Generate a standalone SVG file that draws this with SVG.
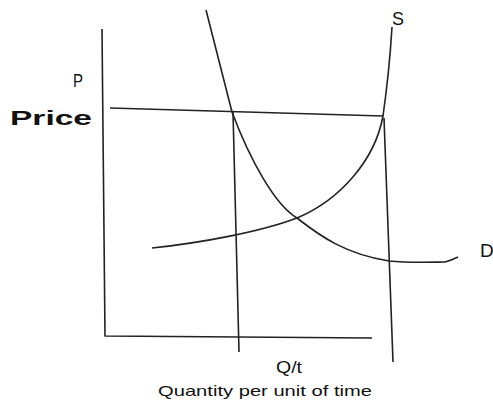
<svg xmlns="http://www.w3.org/2000/svg" width="493" height="410" viewBox="0 0 493 410">
  <style>
    .ln { fill: none; stroke: #222; stroke-width: 1.6; stroke-linecap: butt; stroke-linejoin: round; }
    .t { font-family: "Liberation Sans", Arial, sans-serif; fill: #111; }
  </style>
  <rect width="493" height="410" fill="#fff"/>
  <g id="axes">
    <path class="ln" d="M102,29 L105,336 L372,338"/>
  </g>
  <g id="guides">
    <path class="ln" d="M110,108 L383,116"/>
    <path class="ln" d="M233,112 L239,352"/>
    <path class="ln" d="M384,118 L393,362"/>
  </g>
  <g id="demand">
    <path class="ln" d="M206,10 L232,112 C250,160 275,205 297,218 C320,236 345,254 389,261 C410,263 435,262 445,262 Q452,260 458,257"/>
  </g>
  <g id="supply">
    <path class="ln" d="M152,248 C200,243 260,232 297,218 C340,200 375,160 383,116 C386,95 390,60 392,27"/>
  </g>
  <g id="labels">
    <text class="t" x="73" y="87" font-size="18" textLength="10" lengthAdjust="spacingAndGlyphs">P</text>
    <text class="t" x="10" y="125" font-size="20" font-weight="bold" textLength="82" lengthAdjust="spacingAndGlyphs">Price</text>
    <text class="t" x="392" y="25" font-size="18">S</text>
    <text class="t" x="480" y="257" font-size="19">D</text>
    <text class="t" x="276" y="373" font-size="16" textLength="26" lengthAdjust="spacingAndGlyphs">Q/t</text>
    <text class="t" x="158" y="396" font-size="15" textLength="214" lengthAdjust="spacingAndGlyphs">Quantity per unit of time</text>
  </g>
</svg>
